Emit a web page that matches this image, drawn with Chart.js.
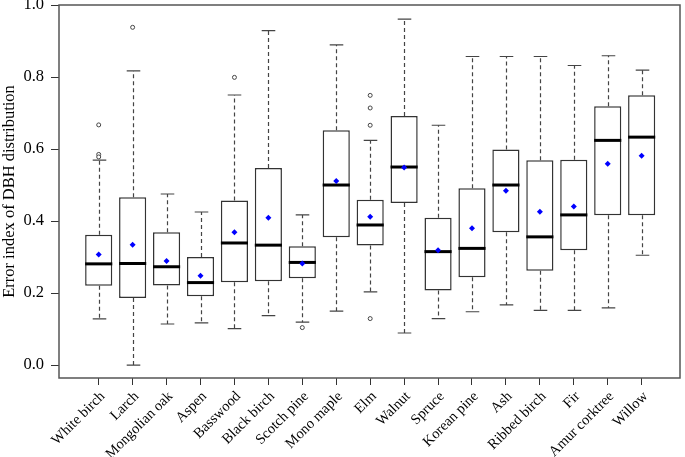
<!DOCTYPE html>
<html>
<head>
<meta charset="utf-8">
<script src="https://cdn.jsdelivr.net/npm/chart.js@4/dist/chart.umd.min.js"></script>
<style>
  html, body { margin: 0; padding: 0; background: #fff; }
  #wrap { width: 685px; height: 457px; }
</style>
</head>
<body>
<div id="wrap"><canvas id="c" width="685" height="457"></canvas></div>
<script>
const categories = ["White birch","Larch","Mongolian oak","Aspen","Basswood","Black birch","Scotch pine","Mono maple","Elm","Walnut","Spruce","Korean pine","Ash","Ribbed birch","Fir","Amur corktree","Willow"];
const whiskerLow  = [0.128,0.000,0.114,0.117,0.101,0.137,0.119,0.150,0.203,0.089,0.129,0.148,0.167,0.152,0.152,0.159,0.305];
const q1          = [0.220,0.186,0.221,0.191,0.230,0.233,0.241,0.355,0.332,0.450,0.207,0.244,0.369,0.262,0.319,0.416,0.416];
const medians     = [0.281,0.282,0.273,0.229,0.339,0.333,0.285,0.500,0.389,0.550,0.315,0.324,0.500,0.356,0.417,0.624,0.633];
const q3          = [0.362,0.466,0.369,0.300,0.457,0.547,0.330,0.652,0.459,0.692,0.409,0.491,0.599,0.569,0.570,0.719,0.749];
const whiskerHigh = [0.569,0.817,0.475,0.425,0.750,0.929,0.417,0.889,0.624,0.961,0.666,0.857,0.857,0.857,0.832,0.859,0.819];
const means       = [0.307,0.334,0.289,0.248,0.369,0.409,0.282,0.511,0.412,0.549,0.319,0.380,0.484,0.426,0.440,0.559,0.581];
const outliers    = [[0.667,0.585,0.578],[0.938],[],[],[0.799],[],[0.104],[],[0.749,0.714,0.666,0.129],[],[],[],[],[],[],[],[]];
const yTicks      = [0.0,0.2,0.4,0.6,0.8,1.0];

const FONT = "'Liberation Serif', 'Times New Roman', serif";

const boxData = categories.map((c,i) => ({x: i+1, y: [q1[i], q3[i]]}));
const meanData = categories.map((c,i) => ({x: i+1, y: means[i]}));
const outlierData = [];
outliers.forEach((arr,i) => arr.forEach(v => outlierData.push({x: i+1, y: v})));

const boxPlugin = {
  id: 'boxparts',
  beforeDatasetsDraw(chart) {
    const {ctx, scales: {x, y}} = chart;
    const unit = x.getPixelForValue(2) - x.getPixelForValue(1);
    const capHalf = unit * 0.8 / 4;
    ctx.save();
    ctx.strokeStyle = '#444';
    ctx.lineWidth = 1.2;
    categories.forEach((c,i) => {
      const px = Math.round(x.getPixelForValue(i+1)) + 0.5;
      ctx.setLineDash([4,3]);
      ctx.beginPath();
      ctx.moveTo(px, y.getPixelForValue(q3[i]));
      ctx.lineTo(px, y.getPixelForValue(whiskerHigh[i]));
      ctx.moveTo(px, y.getPixelForValue(q1[i]));
      ctx.lineTo(px, y.getPixelForValue(whiskerLow[i]));
      ctx.stroke();
      ctx.setLineDash([]);
      ctx.beginPath();
      const yh = y.getPixelForValue(whiskerHigh[i]);
      const yl = y.getPixelForValue(whiskerLow[i]);
      ctx.moveTo(px - capHalf, yh); ctx.lineTo(px + capHalf, yh);
      ctx.moveTo(px - capHalf, yl); ctx.lineTo(px + capHalf, yl);
      ctx.stroke();
    });
    ctx.restore();
  },
  afterDatasetDraw(chart, args) {
    if (args.index !== 0) return;
    const {ctx, scales: {x, y}} = chart;
    const unit = x.getPixelForValue(2) - x.getPixelForValue(1);
    const half = unit * 0.8 / 2;
    ctx.save();
    ctx.strokeStyle = '#000';
    ctx.lineWidth = 3;
    categories.forEach((c,i) => {
      const px = x.getPixelForValue(i+1);
      const py = y.getPixelForValue(medians[i]);
      ctx.beginPath();
      ctx.moveTo(px - half, py);
      ctx.lineTo(px + half, py);
      ctx.stroke();
    });
    ctx.restore();
  },
  afterDraw(chart) {
    const {ctx, chartArea: a} = chart;
    ctx.save();
    ctx.strokeStyle = '#555';
    ctx.lineWidth = 1.5;
    ctx.strokeRect(a.left, a.top, a.right - a.left, a.bottom - a.top);
    ctx.restore();
  }
};

new Chart(document.getElementById('c'), {
  type: 'bar',
  data: {
    datasets: [
      {
        type: 'bar',
        data: boxData,
        backgroundColor: '#ffffff',
        borderColor: '#333',
        borderWidth: 1.5,
        borderSkipped: false,
        categoryPercentage: 0.8,
        barPercentage: 1.0,
        order: 3
      },
      {
        type: 'scatter',
        data: outlierData,
        pointStyle: 'circle',
        pointRadius: 2,
        pointBackgroundColor: '#fff',
        pointBorderColor: '#444',
        pointBorderWidth: 1,
        order: 2
      },
      {
        type: 'scatter',
        data: meanData,
        pointStyle: 'rectRot',
        pointRadius: 3,
        pointBackgroundColor: '#0000ff',
        pointBorderColor: '#0000ff',
        pointBorderWidth: 0,
        order: 1
      }
    ]
  },
  options: {
    responsive: false,
    animation: false,
    devicePixelRatio: 1,
    layout: { padding: { top: 5, right: 2, left: 0, bottom: 0 } },
    plugins: { legend: { display: false }, tooltip: { enabled: false } },
    scales: {
      x: {
        type: 'linear',
        offset: false,
        min: -0.17,
        max: 18.13,
        afterBuildTicks(scale) { scale.ticks = categories.map((c,i) => ({value: i+1})); },
        afterFit(scale) { scale.height = 79; scale.paddingLeft = 0; scale.paddingRight = 0; },
        grid: { offset: false, drawOnChartArea: false, drawTicks: true, tickLength: 7, color: '#333', lineWidth: 1 },
        border: { display: false },
        ticks: {
          autoSkip: false,
          minRotation: 45,
          maxRotation: 45,
          padding: 3,
          labelOffset: 4,
          color: '#000',
          font: { family: FONT, size: 14.5 },
          callback: (v) => categories[Math.round(v) - 1]
        }
      },
      y: {
        type: 'linear',
        min: -0.036,
        max: 1.0,
        afterBuildTicks(scale) { scale.ticks = yTicks.map(v => ({value: v})); },
        afterFit(scale) { scale.width = 59; scale.paddingTop = 0; scale.paddingBottom = 0; },
        grid: { drawOnChartArea: false, drawTicks: true, tickLength: 8, color: '#333', lineWidth: 1 },
        border: { display: false },
        ticks: {
          padding: 7,
          color: '#000',
          font: { family: FONT, size: 16.5 },
          callback: (v) => Number(v).toFixed(1)
        },
        title: {
          display: true,
          text: 'Error index of DBH distribution',
          color: '#000',
          font: { family: FONT, size: 16.5 },
          padding: { top: 0, bottom: 0 }
        }
      }
    }
  },
  plugins: [boxPlugin]
});
</script>
</body>
</html>
